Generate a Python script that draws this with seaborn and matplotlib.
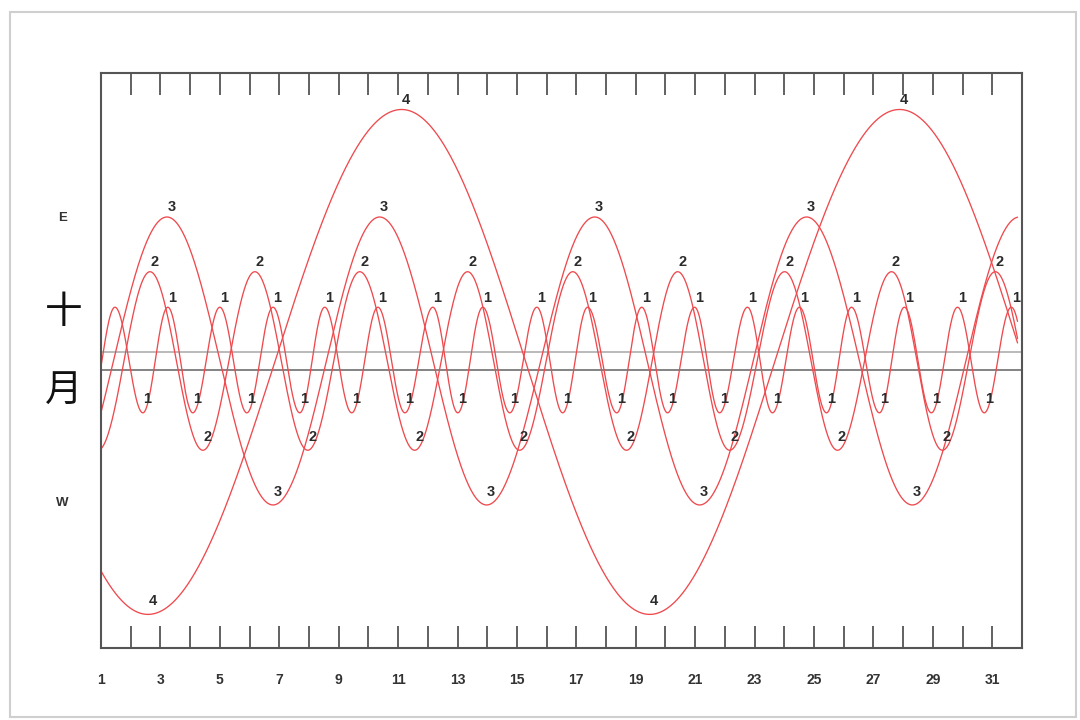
import numpy as np
import pandas as pd
import seaborn as sns
import matplotlib.pyplot as plt
from matplotlib.patches import Rectangle
import matplotlib.transforms as mtransforms

# days of east / west elongation (day of month), values in Jupiter radii
io_east = [1.47, 3.25, 5.00, 6.79, 8.53, 10.32, 12.17, 13.85, 15.67, 17.38, 19.20,
           20.98, 22.76, 24.51, 26.26, 28.04, 29.83, 31.64]
io_west = [0.60, 2.41, 4.09, 5.91, 7.69, 9.44, 11.23, 13.01, 14.76, 16.54, 18.36,
           20.07, 21.82, 23.60, 25.42, 27.20, 28.95, 30.73, 32.52]
europa_east = [2.65, 6.18, 9.71, 13.34, 16.88, 20.41, 24.01, 27.61, 31.10]
europa_west = [0.90, 4.43, 7.96, 11.56, 15.09, 18.69, 22.16, 25.79, 29.32, 32.89]
ganymede_east = [3.22, 10.38, 17.62, 24.75, 31.91]
ganymede_west = [-0.38, 6.79, 13.98, 21.15, 28.31, 35.48]
callisto_east = [-5.76, 11.12, 27.88]
callisto_west = [2.58, 19.47, 36.22]

moon_names = ["1", "2", "3", "4"]
east_max = [5.6, 9.3, 15.0, 26.2]
west_max = [-5.4, -9.3, -15.0, -26.4]

day_ticks = list(range(1, 32))
day_labels = [str(d) if d % 2 == 1 else "" for d in day_ticks]
side_labels = ["E", "W"]
side_pos = [14.9, -14.8]
month_chars = ["十", "月"]
month_pos = [5.1, -3.2]

east_days = [io_east, europa_east, ganymede_east, callisto_east]
west_days = [io_west, europa_west, ganymede_west, callisto_west]

t_start, t_end = 1.0, 31.85
t = np.linspace(t_start, t_end, 3000)

rows = []
labels = []
for name, e_days, w_days, e_v, w_v in zip(moon_names, east_days, west_days, east_max, west_max):
    ext = sorted([(d, e_v, True) for d in e_days] + [(d, w_v, False) for d in w_days])
    d = np.array([p[0] for p in ext])
    v = np.array([p[1] for p in ext])
    i = np.clip(np.searchsorted(d, t) - 1, 0, len(d) - 2)
    s = (t - d[i]) / (d[i + 1] - d[i])
    y = v[i] + (v[i + 1] - v[i]) * (1 - np.cos(np.pi * s)) / 2
    rows.append(pd.DataFrame({"day": t, "pos": y, "moon": name}))
    for dd, vv, east in ext:
        if 2.0 <= dd <= t_end:
            labels.append((name, dd, vv, east))
df = pd.concat(rows, ignore_index=True)

sns.set_style("white")
fig = plt.figure(figsize=(10.8, 7.2), dpi=100)
ax = fig.add_axes([0.0935, 0.1, 0.8528, 0.7986])

# jupiter disk
ax.axhline(0.9, color="#b4b4b4", lw=1.3, zorder=1)
ax.axhline(-0.9, color="#7a7a7a", lw=1.3, zorder=1)

sns.lineplot(data=df, x="day", y="pos", units="moon", estimator=None, sort=False,
             color="#ee4a4e", linewidth=0.95, ax=ax, legend=False, zorder=2)

for name, dd, vv, east in labels:
    ax.text(dd + 0.15, vv + (1.0 if east else 1.4), name, ha="center", va="center",
            fontsize=10.5, fontweight="bold", color="#2b2b2b", family="Liberation Sans", zorder=3)

ax.set_xlim(1, 32)
ax.set_ylim(-29.9, 30)
ax.set_xticks(day_ticks)
ax.set_xticklabels(day_labels, fontsize=10, fontweight="bold", color="#333333",
                   family="Liberation Sans")
ax.set_yticks([])
ax.tick_params(axis="x", direction="in", length=16, width=1.3, color="#555555",
               top=True, bottom=True, pad=18)
ax.set_xlabel("")
ax.set_ylabel("")
for sp in ax.spines.values():
    sp.set_color("#555555")
    sp.set_linewidth(1.5)

trans = mtransforms.blended_transform_factory(ax.transAxes, ax.transData)
for lab, p in zip(side_labels, side_pos):
    ax.text(-0.042, p, lab, transform=trans, ha="center", va="center",
            fontsize=9.5, fontweight="bold", color="#333333", family="Liberation Sans")
for ch, p in zip(month_chars, month_pos):
    ax.text(-0.04, p, ch, transform=trans, ha="center", va="center",
            fontsize=27, color="#111111", family=["Noto Sans CJK SC", "DejaVu Sans"])

fig.add_artist(Rectangle((0.009, 0.004), 0.987, 0.979, transform=fig.transFigure,
                         fill=False, ec="#cfcfcf", lw=1.5))

plt.savefig("out.png", dpi=100)
